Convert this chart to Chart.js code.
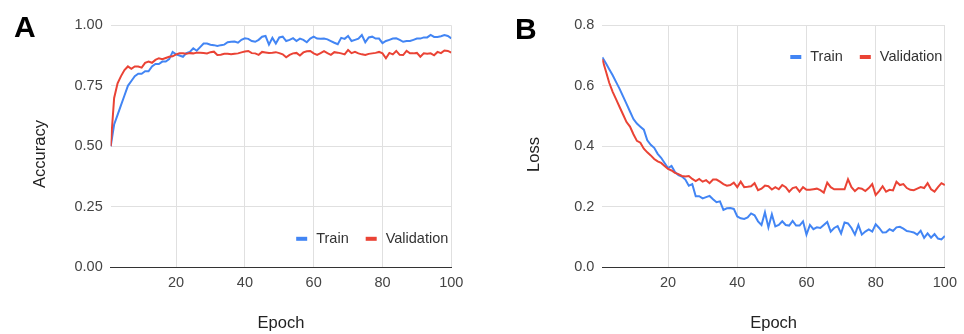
<!DOCTYPE html>
<html>
<head>
<meta charset="utf-8">
<script src="https://cdn.jsdelivr.net/npm/chart.js@4.4.1/dist/chart.umd.min.js"></script>
<style>
  html, body { margin: 0; padding: 0; background: #fff; }
  #wrap { position: relative; width: 964px; height: 334px; overflow: hidden; background: #fff; }
  .panel { position: absolute; top: 0; width: 482px; height: 334px; }
  .letter { position: absolute; font-family: "Liberation Sans", Arial, sans-serif; font-weight: bold; font-size: 30px; line-height: 30px; color: #000; }
</style>
</head>
<body>
<div id="wrap">
  <div class="panel" style="left:0"><canvas id="chartA" width="482" height="334"></canvas></div>
  <div class="panel" style="left:482px"><canvas id="chartB" width="482" height="334"></canvas></div>
  <div class="letter" style="left:14px; top:12px;">A</div>
  <div class="letter" style="left:515px; top:14px;">B</div>
</div>
<script>
// ---------- DATA ----------
const epochs = Array.from({length: 100}, (_, i) => i + 1);
const seriesNames = ['Train', 'Validation'];
const xTitle = 'Epoch';
const yTitleA = 'Accuracy';
const yTitleB = 'Loss';

const xTicks = [20, 40, 60, 80, 100];
const xTickLabels = ['20', '40', '60', '80', '100'];

const accTicks = [0, 0.25, 0.5, 0.75, 1.0];
const accTickLabels = ['0.00', '0.25', '0.50', '0.75', '1.00'];
const lossTicks = [0, 0.2, 0.4, 0.6, 0.8];
const lossTickLabels = ['0.0', '0.2', '0.4', '0.6', '0.8'];

const trainAcc = [
  0.50, 0.59, 0.63, 0.67, 0.71, 0.75, 0.77, 0.79, 0.80, 0.80,
  0.81, 0.81, 0.83, 0.84, 0.84, 0.85, 0.85, 0.86, 0.89, 0.88,
  0.875, 0.87, 0.885, 0.89, 0.905, 0.895, 0.91, 0.925, 0.925, 0.92,
  0.918, 0.915, 0.918, 0.92, 0.93, 0.932, 0.933, 0.928, 0.94, 0.946,
  0.944, 0.935, 0.932, 0.94, 0.953, 0.956, 0.92, 0.948, 0.925, 0.95,
  0.953, 0.935, 0.94, 0.947, 0.935, 0.945, 0.94, 0.93, 0.945, 0.953,
  0.945, 0.944, 0.945, 0.942, 0.935, 0.928, 0.922, 0.948, 0.944, 0.956,
  0.935, 0.94, 0.945, 0.96, 0.93, 0.95, 0.953, 0.945, 0.945, 0.926,
  0.935, 0.94, 0.945, 0.946, 0.94, 0.932, 0.935, 0.935, 0.94, 0.945,
  0.945, 0.95, 0.95, 0.96, 0.952, 0.952, 0.955, 0.96, 0.956, 0.946
];
const valAcc = [
  0.50, 0.70, 0.76, 0.79, 0.815, 0.83, 0.82, 0.83, 0.83, 0.825,
  0.845, 0.85, 0.845, 0.857, 0.864, 0.86, 0.865, 0.87, 0.872, 0.88,
  0.884, 0.884, 0.882, 0.885, 0.884, 0.887, 0.887, 0.886, 0.884, 0.889,
  0.891, 0.877, 0.878, 0.882, 0.882, 0.88, 0.882, 0.884, 0.888, 0.892,
  0.894, 0.885, 0.884, 0.878, 0.89, 0.888, 0.886, 0.887, 0.889, 0.885,
  0.88, 0.868, 0.878, 0.884, 0.886, 0.875, 0.888, 0.893, 0.894, 0.884,
  0.878, 0.885, 0.893, 0.885, 0.878, 0.889, 0.887, 0.884, 0.88, 0.898,
  0.885, 0.89, 0.884, 0.88, 0.877, 0.882, 0.884, 0.886, 0.89, 0.884,
  0.864, 0.886, 0.88, 0.894, 0.878, 0.877, 0.894, 0.884, 0.884, 0.886,
  0.87, 0.884, 0.882, 0.884, 0.876, 0.89, 0.885, 0.896, 0.894, 0.887
];
const trainLoss = [
  0.694, 0.675, 0.655, 0.635, 0.612, 0.59, 0.565, 0.54, 0.515, 0.49,
  0.475, 0.465, 0.455, 0.42, 0.405, 0.395, 0.375, 0.362, 0.345, 0.328,
  0.335, 0.315, 0.305, 0.30, 0.29, 0.27, 0.275, 0.235, 0.235, 0.228,
  0.232, 0.236, 0.225, 0.215, 0.218, 0.19, 0.195, 0.196, 0.193, 0.168,
  0.162, 0.16, 0.165, 0.178, 0.172, 0.152, 0.14, 0.182, 0.132, 0.175,
  0.135, 0.14, 0.152, 0.14, 0.138, 0.153, 0.138, 0.138, 0.152, 0.108,
  0.14, 0.126, 0.132, 0.13, 0.14, 0.15, 0.118, 0.13, 0.136, 0.112,
  0.148, 0.145, 0.13, 0.108, 0.14, 0.108, 0.118, 0.125, 0.118, 0.142,
  0.13, 0.115, 0.116, 0.126, 0.12, 0.132, 0.134, 0.128, 0.12, 0.118,
  0.115, 0.108, 0.121, 0.097, 0.112, 0.098, 0.11, 0.095, 0.092, 0.104
];
const valLoss = [
  0.688, 0.65, 0.61, 0.58, 0.555, 0.53, 0.505, 0.48, 0.465, 0.44,
  0.418, 0.412, 0.392, 0.38, 0.37, 0.358, 0.35, 0.345, 0.335, 0.325,
  0.32, 0.312, 0.308, 0.302, 0.30, 0.302, 0.292, 0.285, 0.292, 0.283,
  0.288, 0.278, 0.29, 0.29, 0.283, 0.275, 0.27, 0.272, 0.28, 0.265,
  0.283, 0.265, 0.266, 0.268, 0.278, 0.255, 0.26, 0.27, 0.268, 0.257,
  0.265, 0.258, 0.272, 0.265, 0.25, 0.262, 0.265, 0.25, 0.265, 0.256,
  0.256, 0.258, 0.26, 0.255, 0.247, 0.28, 0.265, 0.258, 0.258, 0.258,
  0.258, 0.291, 0.265, 0.252, 0.262, 0.26, 0.252, 0.262, 0.275, 0.239,
  0.252, 0.268, 0.25, 0.256, 0.254, 0.283, 0.272, 0.275, 0.262, 0.256,
  0.255, 0.26, 0.265, 0.262, 0.278, 0.258, 0.25, 0.265, 0.278, 0.272
];

// ---------- STYLE ----------
const FONT = '"Liberation Sans", Arial, sans-serif';
const BLUE = '#4285F4';
const RED = '#EA4335';
const GRID = '#e0e0e0';
const BASE = '#333333';

const inlineLegend = {
  id: 'inlineLegend',
  afterDraw(chart, args, opts) {
    const {ctx, chartArea} = chart;
    ctx.save();
    // rotated y-axis title
    if (opts.yTitle) {
      ctx.font = opts.yTitle.size + 'px ' + FONT;
      ctx.fillStyle = opts.yTitle.color;
      ctx.textAlign = 'center';
      ctx.textBaseline = 'middle';
      ctx.translate(opts.yTitle.x, opts.yTitle.y);
      ctx.rotate(-Math.PI / 2);
      ctx.fillText(opts.yTitle.text, 0, 0);
      ctx.setTransform(1, 0, 0, 1, 0, 0);
    }
    ctx.font = opts.fontSize + 'px ' + FONT;
    ctx.textBaseline = 'middle';
    ctx.textAlign = 'left';
    const y = opts.position === 'bottom' ? chartArea.bottom - opts.offset : chartArea.top + opts.offset;
    let x = chartArea.right - opts.rightInset;
    const ds = chart.data.datasets;
    for (let i = ds.length - 1; i >= 0; i--) {
      const w = ctx.measureText(ds[i].label).width;
      x -= w;
      ctx.fillStyle = opts.textColor;
      ctx.fillText(ds[i].label, x, y);
      x -= opts.textGap;
      ctx.fillStyle = ds[i].borderColor;
      ctx.fillRect(x - opts.markerW, y - opts.markerH / 2, opts.markerW, opts.markerH);
      x -= opts.markerW + opts.itemGap;
    }
    ctx.restore();
  }
};

function makeChart(id, train, val, yTicks, yTickLabels, yMax, cfg) {
  return new Chart(document.getElementById(id), {
    type: 'line',
    data: {
      labels: epochs,
      datasets: [
        { label: seriesNames[0], data: train, borderColor: BLUE, backgroundColor: BLUE, borderWidth: 2, pointRadius: 0, tension: 0, order: 1 },
        { label: seriesNames[1], data: val, borderColor: RED, backgroundColor: RED, borderWidth: 2, pointRadius: 0, tension: 0, order: 0 }
      ]
    },
    options: {
      responsive: false,
      animation: false,
      events: [],
      layout: { padding: { left: 0, top: cfg.top, right: cfg.right, bottom: 0 } },
      plugins: {
        legend: { display: false },
        tooltip: { enabled: false },
        inlineLegend: cfg.legend
      },
      scales: {
        x: {
          type: 'linear',
          min: 1,
          max: 100,
          afterBuildTicks: s => { s.ticks = xTicks.map(v => ({ value: v })); },
          afterFit: s => { s.height = cfg.xHeight; },
          ticks: {
            callback: (v, i) => xTickLabels[i],
            color: '#444',
            font: { family: FONT, size: 14.5 },
            padding: 7,
            maxRotation: 0,
            autoSkip: false
          },
          grid: { color: GRID, lineWidth: 1, drawTicks: false },
          border: { display: true, color: BASE, width: 1 },
          title: { display: true, text: xTitle, color: '#222', font: { family: FONT, size: 16.5 }, padding: { top: 4, bottom: 1 } }
        },
        y: {
          min: 0,
          max: yMax,
          afterBuildTicks: s => { s.ticks = yTicks.map(v => ({ value: v })); },
          afterFit: s => { s.width = cfg.yWidth; },
          ticks: {
            callback: (v, i) => yTickLabels[i],
            color: '#444',
            font: { family: FONT, size: 14.5 },
            padding: 8,
            autoSkip: false
          },
          grid: {
            color: c => (c.tick && c.tick.value === 0 ? BASE : GRID),
            lineWidth: 1,
            drawTicks: false
          },
          border: { display: false },
          title: { display: false }
        }
      }
    },
    plugins: [inlineLegend]
  });
}

makeChart('chartA', trainAcc, valAcc, accTicks, accTickLabels, 1.0, {
  top: 25.3, right: 30.7, yWidth: 110.7, xHeight: 66.7,
  legend: { position: 'bottom', offset: 28.5, rightInset: 3, fontSize: 14.5, textColor: '#333', textGap: 9, markerW: 11, markerH: 4, itemGap: 17,
            yTitle: { text: yTitleA, x: 40.5, y: 154, size: 16.5, color: '#222' } }
});
makeChart('chartB', trainLoss, valLoss, lossTicks, lossTickLabels, 0.8, {
  top: 25.3, right: 16.7, yWidth: 120.3, xHeight: 66.7,
  legend: { position: 'top', offset: 31.7, rightInset: 2.5, fontSize: 14.5, textColor: '#333', textGap: 9, markerW: 11, markerH: 4, itemGap: 17,
            yTitle: { text: yTitleB, x: 52, y: 154.5, size: 16.5, color: '#222' } }
});
</script>
</body>
</html>
